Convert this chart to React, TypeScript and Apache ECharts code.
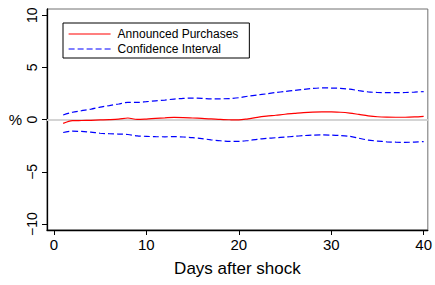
import React, { useEffect, useRef } from "react";
import * as echarts from "echarts";

const days: number[] = Array.from({ length: 40 }, (_, i) => i + 1);

const announcedPurchases: number[] = [
  -0.36, -0.1, -0.08, -0.06, -0.03, 0.0, 0.05, 0.16, 0.02, 0.06,
  0.12, 0.17, 0.22, 0.2, 0.16, 0.12, 0.08, 0.02, -0.01, -0.03,
  0.08, 0.22, 0.33, 0.42, 0.52, 0.6, 0.68, 0.73, 0.75, 0.74,
  0.71, 0.63, 0.5, 0.37, 0.28, 0.24, 0.23, 0.23, 0.26, 0.32,
];

const upperBand: number[] = [
  0.45, 0.71, 0.86, 1.0, 1.2, 1.35, 1.5, 1.66, 1.65, 1.72,
  1.8, 1.88, 1.97, 2.04, 2.07, 2.04, 2.0, 2.0, 2.02, 2.1,
  2.25, 2.36, 2.47, 2.6, 2.7, 2.8, 2.9, 3.0, 3.04, 3.03,
  3.0, 2.92, 2.78, 2.66, 2.6, 2.58, 2.58, 2.6, 2.64, 2.69,
];

const lowerBand: number[] = [
  -1.23, -1.1, -1.13, -1.2, -1.3, -1.35, -1.38, -1.42, -1.55, -1.6,
  -1.63, -1.64, -1.63, -1.66, -1.72, -1.82, -1.93, -2.02, -2.08, -2.08,
  -2.0, -1.88, -1.8, -1.73, -1.67, -1.6, -1.53, -1.48, -1.46, -1.48,
  -1.52, -1.6, -1.78, -1.96, -2.05, -2.12, -2.16, -2.17, -2.15, -2.1,
];

const xTicks: number[] = [0, 10, 20, 30, 40];
const yTicks: number[] = [-10, -5, 0, 5, 10];

const FONT = "'Liberation Sans', Arial, Helvetica, sans-serif";

export default function App() {
  const ref = useRef<HTMLDivElement | null>(null);

  useEffect(() => {
    if (!ref.current) return;
    const chart = echarts.init(ref.current, null, { renderer: "svg" });
    const pair = (vals: number[]) => days.map((d, i) => [d, vals[i]]);
    chart.setOption({
      animation: false,
      backgroundColor: "#ffffff",
      textStyle: { fontFamily: FONT },
      grid: {
        left: 47,
        right: 4,
        top: 9,
        bottom: 55,
        show: true,
        borderColor: "#707070",
        borderWidth: 1,
      },
      legend: {
        left: 63,
        top: 23,
        orient: "vertical",
        padding: [5, 11, 3, 5],
        itemGap: 3,
        itemWidth: 42,
        itemHeight: 14,
        borderColor: "#000000",
        borderWidth: 1,
        backgroundColor: "#ffffff",
        itemStyle: { opacity: 0 },
        lineStyle: { width: 1.2 },
        textStyle: { fontSize: 12, color: "#000000", fontFamily: FONT, padding: [0, 0, 0, 2] },
        data: ["Announced Purchases", "Confidence Interval"],
      },
      xAxis: {
        type: "value",
        min: -0.75,
        max: 40.45,
        name: "Days after shock",
        nameLocation: "middle",
        nameGap: 30,
        nameTextStyle: { fontSize: 17, color: "#000000", fontFamily: FONT },
        splitLine: { show: false },
        axisLine: { show: true, onZero: false, lineStyle: { color: "#000000", width: 1.3 } },
        axisTick: { show: true, length: 5, lineStyle: { color: "#000000" }, customValues: xTicks },
        axisLabel: { fontSize: 15, color: "#000000", margin: 7, customValues: xTicks, fontFamily: FONT },
      },
      yAxis: {
        type: "value",
        min: -10.57,
        max: 10.6,
        name: "%",
        nameLocation: "middle",
        nameRotate: 0,
        nameGap: 25,
        nameTextStyle: { fontSize: 15, color: "#000000", fontFamily: FONT },
        splitLine: { show: false },
        axisLine: { show: true, onZero: false, lineStyle: { color: "#000000", width: 1.3 } },
        axisTick: { show: true, length: 5, lineStyle: { color: "#000000" }, customValues: yTicks },
        axisLabel: {
          fontSize: 14,
          color: "#000000",
          rotate: 90,
          margin: 8,
          customValues: yTicks,
          fontFamily: FONT,
          formatter: (v: number) => (v < 0 ? "\u2212" + Math.abs(v) : String(v)),
        },
      },
      series: [
        {
          name: "Announced Purchases",
          type: "line",
          data: pair(announcedPurchases),
          symbol: "none",
          smooth: 0.3,
          color: "#ff0000",
          lineStyle: { color: "#ff0000", width: 1.2 },
          z: 3,
          markLine: {
            silent: true,
            symbol: "none",
            label: { show: false },
            lineStyle: { color: "#d4d4d4", width: 2, type: "solid" },
            data: [{ yAxis: 0 }],
            z: 1,
          },
        },
        {
          name: "Confidence Interval",
          type: "line",
          data: pair(upperBand),
          symbol: "none",
          smooth: 0.3,
          color: "#0000ff",
          lineStyle: { color: "#0000ff", width: 1.2, type: [6, 3] },
          z: 3,
        },
        {
          name: "Confidence Interval",
          type: "line",
          data: pair(lowerBand),
          symbol: "none",
          smooth: 0.3,
          color: "#0000ff",
          lineStyle: { color: "#0000ff", width: 1.2, type: [6, 3] },
          z: 3,
        },
      ],
    });
    return () => chart.dispose();
  }, []);

  return (
    <div
      ref={ref}
      style={{ position: "fixed", left: 0, top: 0, width: 435, height: 285, background: "#ffffff" }}
    />
  );
}
